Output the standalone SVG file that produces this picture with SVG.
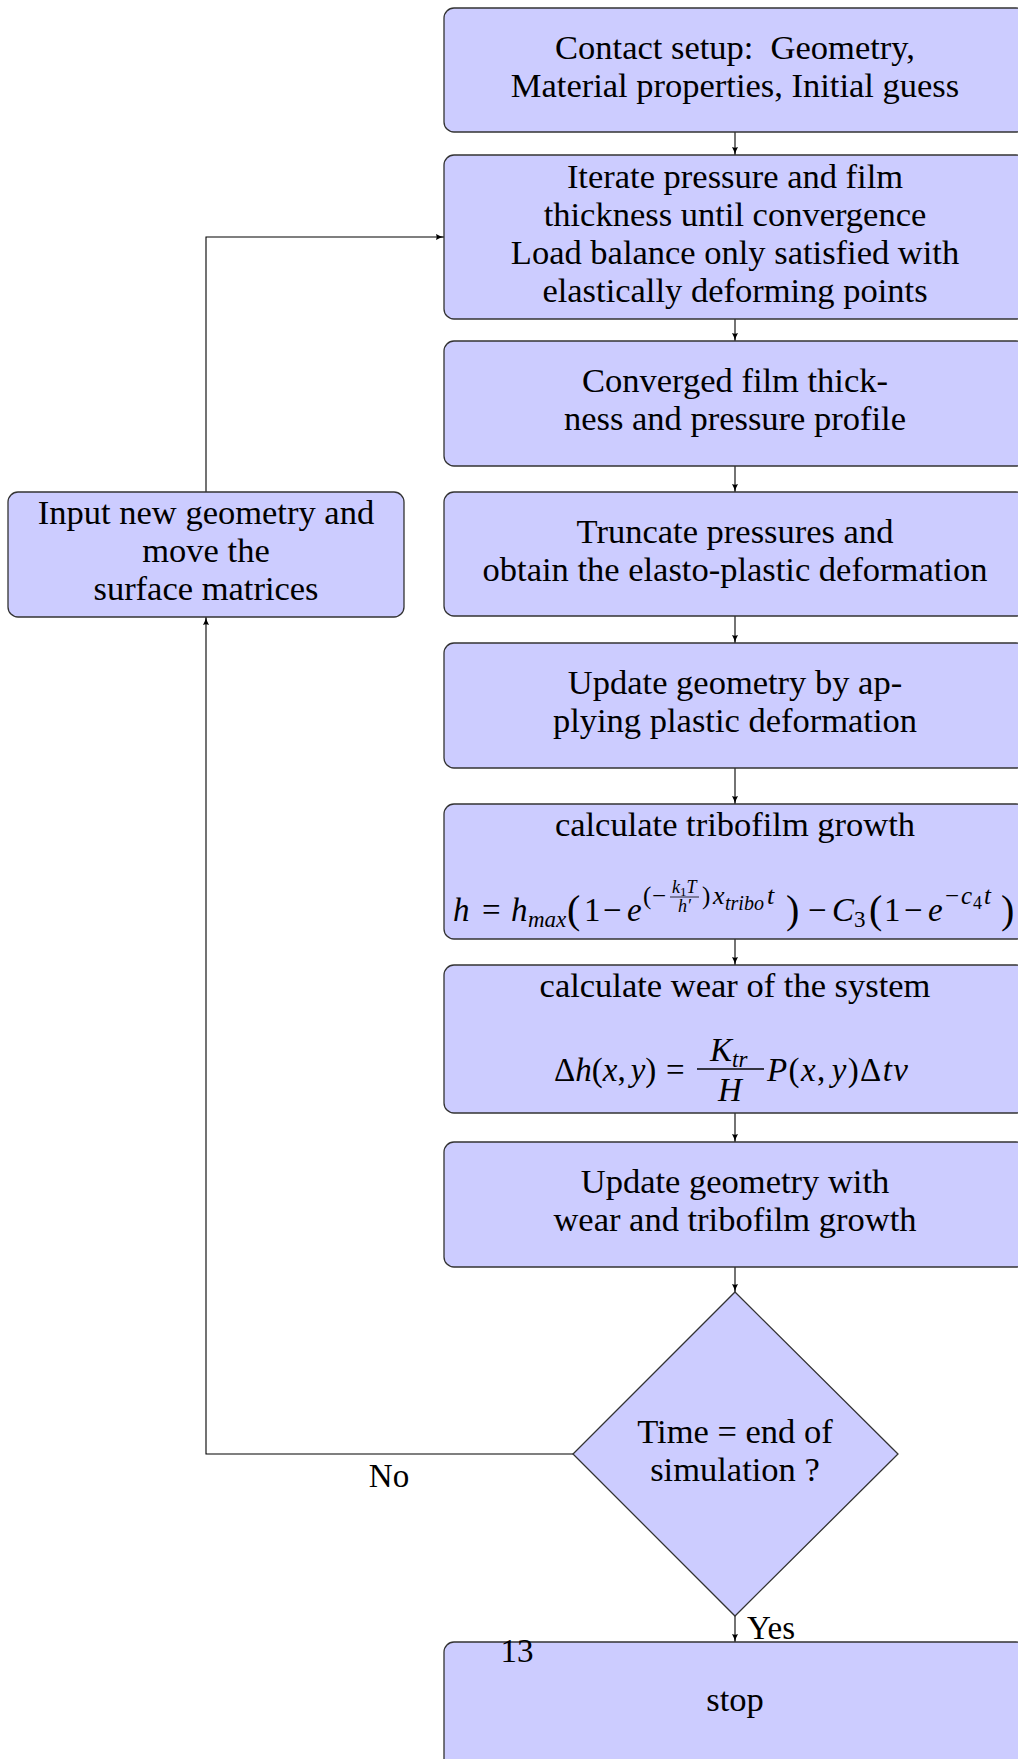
<svg xmlns="http://www.w3.org/2000/svg" width="1018" height="1759" viewBox="0 0 1018 1759">
<defs>
<style>
.box{fill:#ccccff;stroke:#333;stroke-width:1.3}
.t{font-family:"Liberation Serif","Times New Roman",serif;font-size:34.5px;fill:#000;text-anchor:middle}
.s{font-family:"Liberation Serif","Times New Roman",serif;font-size:33px;fill:#000}
.m{font-family:"Liberation Serif","Times New Roman",serif;fill:#000}
.i{font-style:italic}
.c{stroke:#000;stroke-width:1.1;fill:none}
</style>
<marker id="arr" viewBox="0 0 8 6" refX="8" refY="3" markerWidth="8" markerHeight="6" orient="auto" markerUnits="userSpaceOnUse">
<path d="M0,0 Q4,2.4 8,3 Q4,3.6 0,6 Q1.5,3 0,0Z" fill="#000"/>
</marker>
</defs>
<rect width="1018" height="1759" fill="#fff"/>

<g id="connectors">
<line class="c" x1="735" y1="132" x2="735" y2="155" marker-end="url(#arr)"/>
<line class="c" x1="735" y1="319" x2="735" y2="341" marker-end="url(#arr)"/>
<line class="c" x1="735" y1="466" x2="735" y2="492" marker-end="url(#arr)"/>
<line class="c" x1="735" y1="616" x2="735" y2="643" marker-end="url(#arr)"/>
<line class="c" x1="735" y1="768" x2="735" y2="804" marker-end="url(#arr)"/>
<line class="c" x1="735" y1="939" x2="735" y2="965" marker-end="url(#arr)"/>
<line class="c" x1="735" y1="1113" x2="735" y2="1142" marker-end="url(#arr)"/>
<line class="c" x1="735" y1="1267" x2="735" y2="1292" marker-end="url(#arr)"/>
<line class="c" x1="735" y1="1616" x2="735" y2="1642" marker-end="url(#arr)"/>
<path class="c" d="M573,1454 H206 V617" marker-end="url(#arr)"/>
<path class="c" d="M206,492 V237 H444" marker-end="url(#arr)"/>
<text class="s" x="389" y="1487" text-anchor="middle">No</text>
<text class="s" x="747" y="1639">Yes</text>
</g>

<g id="n1">
<rect class="box" x="444" y="8" width="582" height="124" rx="10"/>
<text class="t" x="735" y="59">Contact setup:&#160; Geometry,</text>
<text class="t" x="735" y="97">Material properties, Initial guess</text>
</g>

<g id="n2">
<rect class="box" x="444" y="155" width="582" height="164" rx="10"/>
<text class="t" x="735" y="188">Iterate pressure and film</text>
<text class="t" x="735" y="226">thickness until convergence</text>
<text class="t" x="735" y="264">Load balance only satisfied with</text>
<text class="t" x="735" y="302">elastically deforming points</text>
</g>

<g id="n3">
<rect class="box" x="444" y="341" width="582" height="125" rx="10"/>
<text class="t" x="735" y="392">Converged film thick-</text>
<text class="t" x="735" y="430">ness and pressure profile</text>
</g>

<g id="n4">
<rect class="box" x="444" y="492" width="582" height="124" rx="10"/>
<text class="t" x="735" y="543">Truncate pressures and</text>
<text class="t" x="735" y="581">obtain the elasto-plastic deformation</text>
</g>

<g id="n_left">
<rect class="box" x="8" y="492" width="396" height="125" rx="10"/>
<text class="t" x="206" y="524">Input new geometry and</text>
<text class="t" x="206" y="562">move the</text>
<text class="t" x="206" y="600">surface matrices</text>
</g>

<g id="n5">
<rect class="box" x="444" y="643" width="582" height="125" rx="10"/>
<text class="t" x="735" y="694">Update geometry by ap-</text>
<text class="t" x="735" y="732">plying plastic deformation</text>
</g>

<g id="n6">
<rect class="box" x="444" y="804" width="582" height="135" rx="10"/>
<text class="t" x="735" y="836">calculate tribofilm growth</text>
<g class="m" font-size="33">
<text x="453" y="921" class="i">h</text>
<text x="482" y="921">=</text>
<text x="511" y="921" class="i">h</text>
<text x="528" y="927" class="i" font-size="23">max</text>
<text x="567" y="923" font-size="40">(</text>
<text x="584" y="921">1</text>
<text x="603" y="921">−</text>
<text x="627" y="921" class="i">e</text>
<text x="643" y="904" font-size="25">(</text>
<text x="652" y="904" font-size="25">−</text>
<text x="672" y="893" font-size="18"><tspan class="i">k</tspan><tspan font-size="13" dy="3">1</tspan><tspan class="i" dy="-3">T</tspan></text>
<line x1="670" y1="897" x2="699" y2="897" stroke="#000" stroke-width="0.8"/>
<text x="678" y="912" font-size="18" class="i">h′</text>
<text x="702" y="904" font-size="25">)</text>
<text x="713" y="904" font-size="26" class="i">x</text>
<text x="725" y="910" font-size="20" class="i">tribo</text>
<text x="767" y="904" font-size="26" class="i">t</text>
<text x="786" y="923" font-size="40">)</text>
<text x="808" y="921">−</text>
<text x="832" y="921" class="i">C</text>
<text x="854" y="927" font-size="23">3</text>
<text x="869" y="923" font-size="40">(</text>
<text x="884" y="921">1</text>
<text x="904" y="921">−</text>
<text x="928" y="921" class="i">e</text>
<text x="945" y="904" font-size="25">−</text>
<text x="961" y="904" font-size="25" class="i">c</text>
<text x="973" y="909" font-size="18">4</text>
<text x="984" y="904" font-size="25" class="i">t</text>
<text x="1001" y="923" font-size="40">)</text>
</g>
</g>

<g id="n7">
<rect class="box" x="444" y="965" width="582" height="148" rx="10"/>
<text class="t" x="735" y="997">calculate wear of the system</text>
<g class="m" font-size="33">
<text x="554" y="1081">Δ<tspan class="i">h</tspan>(<tspan class="i">x</tspan>,<tspan dx="5" class="i">y</tspan>)</text>
<text x="666" y="1081">=</text>
<text x="710" y="1061" class="i">K<tspan font-size="23" dy="6">tr</tspan></text>
<line x1="697" y1="1069" x2="764" y2="1069" stroke="#000" stroke-width="1.3"/>
<text x="718" y="1101" class="i">H</text>
<text x="767" y="1081" letter-spacing="1.4"><tspan class="i">P</tspan>(<tspan class="i">x</tspan>,<tspan dx="5" class="i">y</tspan>)Δ<tspan class="i">tv</tspan></text>
</g>
</g>

<g id="n8">
<rect class="box" x="444" y="1142" width="582" height="125" rx="10"/>
<text class="t" x="735" y="1193">Update geometry with</text>
<text class="t" x="735" y="1231">wear and tribofilm growth</text>
</g>

<g id="n9">
<polygon class="box" points="735,1292 898,1454 735,1616 573,1454"/>
<text class="t" x="735" y="1443">Time = end of</text>
<text class="t" x="735" y="1481">simulation ?</text>
</g>

<g id="n10">
<rect class="box" x="444" y="1642" width="582" height="130" rx="10"/>
<text class="t" x="735" y="1711">stop</text>
</g>

<text class="s" x="517" y="1662" text-anchor="middle">13</text>
</svg>
